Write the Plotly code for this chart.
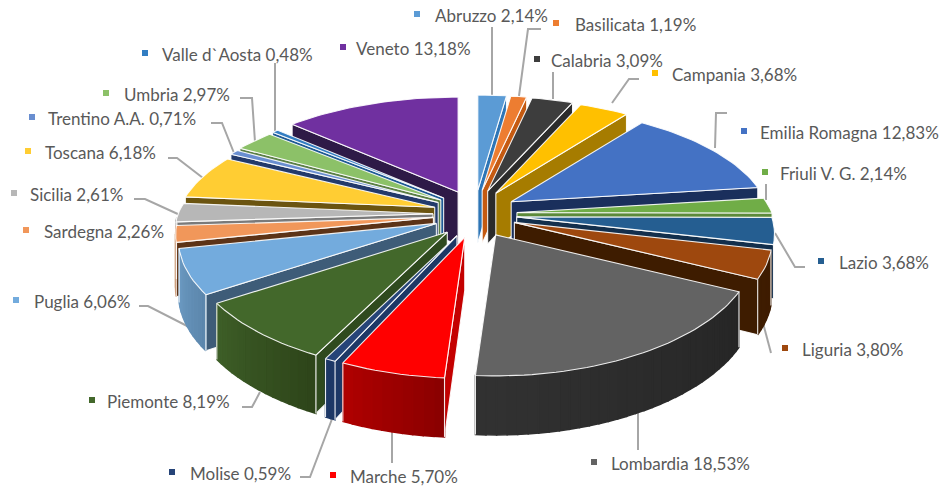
import numpy as np
import plotly.graph_objects as go

# ---------- data ----------
regions = ["Abruzzo", "Basilicata", "Calabria", "Campania", "Emilia Romagna", "Friuli V. G.", "Lazio",
           "Liguria", "Lombardia", "Marche", "Molise", "Piemonte", "Puglia", "Sardegna", "Sicilia",
           "Toscana", "Trentino A.A.", "Umbria", "Valle d`Aosta", "Veneto"]
shares = [2.14, 1.19, 3.09, 3.68, 12.83, 2.14, 3.68, 3.80, 18.53, 5.70, 0.59, 8.19, 6.06, 2.26, 2.61,
          6.18, 0.71, 2.97, 0.48, 13.18]

# ---------- colours ----------
top_col = ["#5B9BD5", "#ED7D31", "#3D3D3D", "#FFC000", "#4472C4", "#70AD47", "#255E91", "#9E480E",
           "#636363", "#FF0000", "#264478", "#43682B", "#73ABDD", "#F1975A", "#B7B7B7", "#FFCD33",
           "#698ED0", "#8CC168", "#327DC2", "#7030A0"]
side_col = ["#2E75B6", "#C55A11", "#2B2B2B", "#A67C00", "#1A2F5C", "#5C8A3A", "#132F4C", "#3E1C00",
            "#262626", "#C40000", "#1D3866", "#2F4A1E", "#3E5C78", "#5C3317", "#7A7A7A", "#6B5410",
            "#233A6B", "#5B7F45", "#1E5A94", "#2E1A47"]
rim_a = ["#2E75B6", "#C55A11", "#2B2B2B", "#A67C00", "#1A2F5C", "#5C8A3A", "#132F4C", "#3E1C00",
         "#262626", "#8A0000", "#1D3866", "#2E451A", "#5C86AC", "#B5703F", "#8A8A8A", "#A88820",
         "#4A6AA8", "#6C9650", "#1E5A94", "#4E2272"]
rim_b = ["#2E75B6", "#C55A11", "#2B2B2B", "#A67C00", "#1A2F5C", "#5C8A3A", "#132F4C", "#3E1C00",
         "#323232", "#B00000", "#1D3866", "#3E5F28", "#6C9AC3", "#B5703F", "#8A8A8A", "#A88820",
         "#4A6AA8", "#6C9650", "#1E5A94", "#4E2272"]

# ---------- projection constants ----------
W, H = 945, 488
CX, CY = 475, 214
A, B, K = 255, 113.5, 0.195
EXPL_X, EXPL_Y = 42, 24
DEPTH = 53
EDGE = "rgba(255,255,255,0.9)"


def hex2rgb(h):
    return np.array([int(h[i:i + 2], 16) for i in (1, 3, 5)], float)


def mix(a, b, t):
    c = hex2rgb(a) * (1 - t) + hex2rgb(b) * t
    return "rgb(%d,%d,%d)" % tuple(c)


def project(theta, off):
    """theta in radians clockwise from the back of the pie, r=1 on the rim."""
    X, Z = np.sin(theta), np.cos(theta)
    s = 1 / (1 + K * Z)
    sx = np.where(Z < 0, s ** 0.75, s)
    return off[0] + A * X * sx, off[1] - B * Z * s, DEPTH * np.sqrt(s)


fig = go.Figure()


def poly(xs, ys, fill, line=EDGE, width=1.1):
    fig.add_trace(go.Scatter(x=list(xs) + [xs[0]], y=list(ys) + [ys[0]], mode="lines", fill="toself",
                             fillcolor=fill, line=dict(color=line, width=width),
                             hoverinfo="skip", showlegend=False))


vals = np.array(shares)
ends = np.cumsum(vals) / vals.sum() * 2 * np.pi
starts = np.r_[0, ends[:-1]]
mids = (starts + ends) / 2
order = np.argsort(-np.cos(mids))
RIM_FROM, RIM_TO = np.radians(104), np.radians(268)

for i in order:
    a0, a1, m = starts[i], ends[i], mids[i]
    off = (CX + EXPL_X * np.sin(m), CY - EXPL_Y * np.cos(m))
    ax, ay = off
    # cut faces
    if a0 > np.radians(160):
        x, y, d = project(a0, off)
        poly([ax, x, x, ax], [ay, y, y + d, ay + DEPTH], side_col[i])
    if a1 < np.radians(200):
        x, y, d = project(a1, off)
        poly([ax, x, x, ax], [ay, y, y + d, ay + DEPTH], side_col[i])
    # rim, split into shaded strips
    r0, r1 = max(a0, RIM_FROM), min(a1, RIM_TO)
    if r1 > r0:
        n = max(2, int((r1 - r0) / np.radians(2)))
        edges = np.linspace(r0, r1, n + 1)
        for j in range(n):
            th = np.linspace(edges[j], edges[j + 1], 3)
            x, y, d = project(th, off)
            c = mix(rim_a[i], rim_b[i], (j + 0.5) / n)
            poly(list(x) + list(x[::-1]), list(y) + list((y + d)[::-1]), c, line=c, width=1.5)
        th = np.array([r0, r1])
        x, y, d = project(th, off)
        for k in (0, 1):
            fig.add_trace(go.Scatter(x=[x[k], x[k]], y=[y[k], y[k] + d[k]], mode="lines",
                                     line=dict(color=EDGE, width=1.1), hoverinfo="skip", showlegend=False))
    # top
    th = np.linspace(a0, a1, max(3, int((a1 - a0) / np.radians(1.5))))
    x, y, _ = project(th, off)
    poly([ax] + list(x), [ay] + list(y), top_col[i])

# ---------- labels: key square x, text x, y ----------
key_x = [417, 556, 537, 655, 744, 765, 821, 785, 594, 333, 172, 92, 16, 26, 14, 28, 32, 106, 145, 343]
text_x = [433, 573, 549, 670, 758, 778, 837, 800, 609, 348, 188, 105, 32, 42, 28, 43, 46, 122, 160, 354]
text_y = [15, 24, 60, 74, 132, 173, 262, 349, 463, 476, 473, 401, 301, 231, 194, 152, 118, 94, 54, 48]
key_dy = -1

fig.add_trace(go.Scatter(x=key_x, y=[t + key_dy for t in text_y], mode="markers",
                         marker=dict(symbol="square", size=6, color=top_col, line=dict(width=0)),
                         hoverinfo="skip", showlegend=False))

leaders = [
    [(492, 95), (492, 27)],
    [(519, 96), (528, 29), (541, 29)],
    [(553, 99), (553, 72)],
    [(612, 103), (629, 79), (639, 79)],
    [(715, 148), (716, 113), (727, 113)],
    [(766, 200), (766, 184)],
    [(775, 233), (795, 267), (805, 267)],
    [(763, 323), (771, 353)],
    [(638, 413), (638, 450)],
    [(392, 433), (392, 463)],
    [(332, 419), (310, 477), (300, 477)],
    [(260, 392), (252, 407), (242, 407)],
    [(193, 329), (148, 306), (139, 306)],
    [(180, 215), (145, 199), (134, 199)],
    [(203, 178), (177, 158), (168, 158)],
    [(234, 153), (222, 123), (211, 123)],
    [(255, 142), (252, 98), (240, 98)],
    [(275, 132), (275, 63)],
]
shapes = [dict(type="path", xref="x", yref="y", layer="below",
               path="M " + " L ".join(f"{px},{py}" for px, py in pts),
               line=dict(color="#A6A6A6", width=2)) for pts in leaders]

annotations = [dict(x=tx, y=ty, xref="x", yref="y", xanchor="left", yanchor="middle", showarrow=False,
                    text=f"{r} " + f"{v:.2f}".replace(".", ",") + "%",
                    font=dict(family="Lato", size=17, color="#595959"))
               for r, v, tx, ty in zip(regions, shares, text_x, text_y)]

fig.update_layout(
    width=W, height=H, margin=dict(l=0, r=0, t=0, b=0),
    paper_bgcolor="white", plot_bgcolor="white", showlegend=False,
    xaxis=dict(range=[0, W], visible=False, fixedrange=True),
    yaxis=dict(range=[H, 0], visible=False, fixedrange=True),
    shapes=shapes, annotations=annotations,
)
fig.write_html("out.html", config=dict(displayModeBar=False),
               post_script="document.body.style.margin='0';")
